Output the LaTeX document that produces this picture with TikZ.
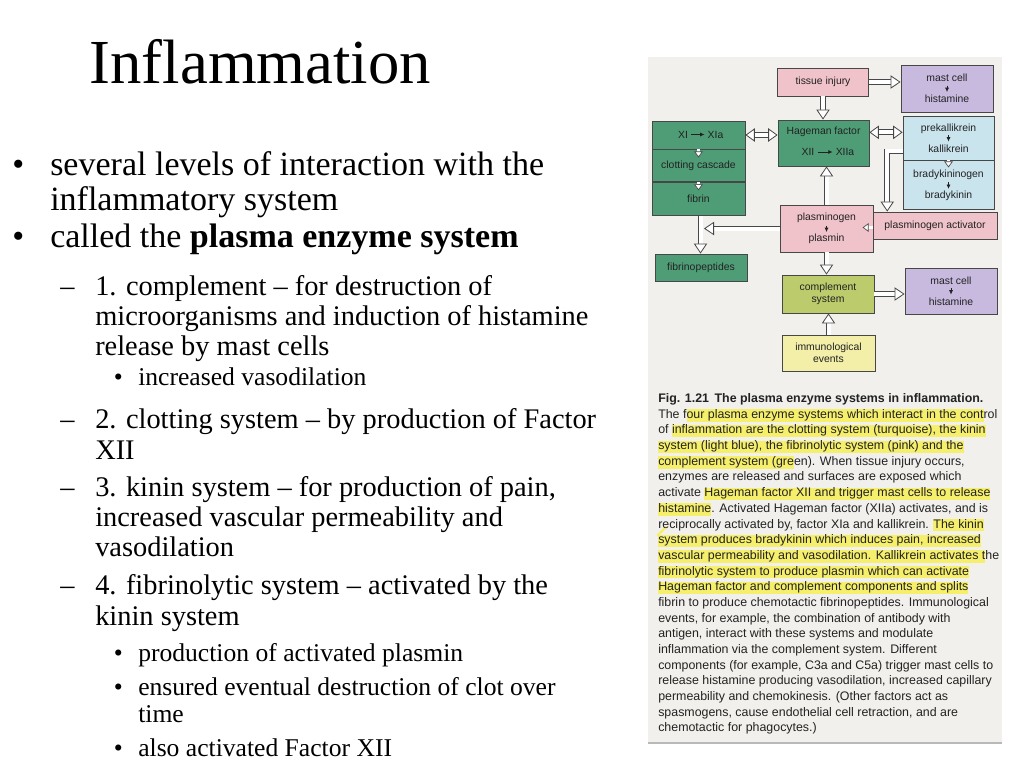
\documentclass[tikz,border=0pt]{standalone}
\usepackage{fontspec}
\setmainfont{Liberation Serif}
\newfontfamily\figfont{Liberation Sans}
\usepackage{xcolor}
\usepackage{tikz}
\usetikzlibrary{calc}
\usetikzlibrary{arrows.meta}
\usetikzlibrary{positioning}
\definecolor{panelbg}{HTML}{F1F0EC}
\definecolor{boxedge}{HTML}{474747}
\definecolor{injurypink}{HTML}{EFC3C9}
\definecolor{clotgreen}{HTML}{4F9D76}
\definecolor{kininblue}{HTML}{CAE4EE}
\definecolor{mastpurple}{HTML}{C8BADF}
\definecolor{complime}{HTML}{BCCB6B}
\definecolor{immunocream}{HTML}{F3EEA8}
\definecolor{hiyellow}{HTML}{F6EF6C}
\definecolor{figtext}{HTML}{222222}
\newcommand{\hlt}[1]{{\setlength{\fboxsep}{0pt}\colorbox{hiyellow}{\rule[-2.6pt]{0pt}{7.8pt}#1}}}
\tikzset{
	slide/.style={anchor=base west,inner sep=0pt,font=\fontsize{25.5}{30}\selectfont},
	subslide/.style={slide,font=\fontsize{21.3}{25}\selectfont},
	subsubslide/.style={slide,font=\fontsize{19.2}{23}\selectfont},
	box/.style={draw=boxedge,line width=0.65pt,inner sep=0pt,align=center,text=figtext,font=\figfont\fontsize{7.8}{15.5}\selectfont},
	lbl/.style={inner sep=2.2pt,text=figtext,font=\figfont\fontsize{7.8}{9}\selectfont},
	capline/.style={anchor=base west,inner sep=0pt,text=figtext,font=\figfont\fontsize{9.3}{11}\selectfont},
	hollow/.style={draw=white,line width=3pt,
		preaction={draw=boxedge,line width=4.4pt,-,shorten >=4pt},
		-{Triangle[length=7.5pt,width=10pt,line width=0.6pt,color=boxedge,fill=white]}},
	hollowboth/.style={draw=white,line width=3pt,
		preaction={draw=boxedge,line width=4.4pt,-,shorten >=4pt,shorten <=4pt},
		{Triangle[length=7pt,width=10pt,line width=0.6pt,color=boxedge,fill=white]}-{Triangle[length=7pt,width=10pt,line width=0.6pt,color=boxedge,fill=white]}},
	tinyhollow/.style={draw=white,line width=1.6pt,
		preaction={draw=boxedge,line width=2.6pt,-,shorten >=2pt},
		-{Triangle[length=4.5pt,width=6.5pt,line width=0.5pt,color=boxedge,fill=white]}},
	minitip/.style={draw=figtext,line width=0.5pt,-{Latex[length=3.2pt,width=3pt]}}
}

\begin{document}
\begin{tikzpicture}[x=0.75pt,y=-0.75pt]
	\useasboundingbox (0,0) rectangle (1024,768);
	\fill[white] (0,0) rectangle (1024,768);
	% slide text
	\node[anchor=base west,inner sep=0pt,font=\fontsize{47}{56}\selectfont] (title) at (89.5,83.3) {Inflammation};
	\node[slide] (dotA) at (12,175) {•};
	\node[slide] (lineA1) at (50,175) {several levels of interaction with the};
	\node[slide] (lineA2) at (50,210.7) {inflammatory system};
	\node[slide] (dotB) at (12,247.7) {•};
	\node[slide] (lineB1) at (50,247.7) {called the \textbf{plasma enzyme system}};
	\node[subslide] (dashC) at (60,295.3) {–};
	\node[subslide] (lineC1) at (95,295.3) {1. complement – for destruction of};
	\node[subslide] (lineC2) at (95,325) {microorganisms and induction of histamine};
	\node[subslide] (lineC3) at (95,355) {release by mast cells};
	\node[subsubslide] (dotC) at (113.5,385) {•};
	\node[subsubslide] (lineC4) at (138,385) {increased vasodilation};
	\node[subslide] (dashD) at (60,428.3) {–};
	\node[subslide] (lineD1) at (95,428.3) {2. clotting system – by production of Factor};
	\node[subslide] (lineD2) at (95,459) {XII};
	\node[subslide] (dashE) at (60,496.7) {–};
	\node[subslide] (lineE1) at (95,496.7) {3. kinin system – for production of pain,};
	\node[subslide] (lineE2) at (95,526.7) {increased vascular permeability and};
	\node[subslide] (lineE3) at (95,556.7) {vasodilation};
	\node[subslide] (dashF) at (60,594.3) {–};
	\node[subslide] (lineF1) at (95,594.3) {4. fibrinolytic system – activated by the};
	\node[subslide] (lineF2) at (95,625) {kinin system};
	\node[subsubslide] (dotF1) at (113.5,661.7) {•};
	\node[subsubslide] (lineF3) at (138,661.7) {production of activated plasmin};
	\node[subsubslide] (dotF2) at (113.5,695) {•};
	\node[subsubslide] (lineF4) at (138,695) {ensured eventual destruction of clot over};
	\node[subsubslide] (lineF5) at (138,722.7) {time};
	\node[subsubslide] (dotF3) at (113.5,756.7) {•};
	\node[subsubslide] (lineF6) at (138,756.7) {also activated Factor XII};
	% scanned figure
	\fill[panelbg] (648,57) rectangle (1002,743);
	\draw[gray!55,line width=0.8pt] (648,743) -- (1002,743);
	\node[box,fill=injurypink,minimum width=68.25pt,minimum height=21pt] (injury) at (823,82) {tissue injury};
	\node[box,fill=mastpurple,minimum width=69pt,minimum height=35.25pt] (mastA) at (947,88.5) {mast cell\\histamine};
	\node[box,fill=clotgreen,minimum width=68.25pt,minimum height=34.5pt] (hag) at (823.5,143) {};
	\node[lbl] (hagtxt) at (823.5,131.5) {Hageman factor};
	\node[lbl] (xii) at (808,152) {XII};
	\node[lbl] (xiia) at (845,152) {XIIa};
	\node[box,fill=clotgreen,minimum width=69.75pt,minimum height=21pt] (clotA) at (698.5,135) {};
	\node[box,fill=clotgreen,minimum width=69.75pt,minimum height=24pt,below=0pt of clotA] (clotB) {clotting cascade};
	\node[box,fill=clotgreen,minimum width=69.75pt,minimum height=24.75pt,below=0pt of clotB] (clotC) {fibrin};
	\node[lbl] (xi) at (683,134.5) {XI};
	\node[lbl] (xia) at (715.5,134.5) {XIa};
	\node[box,fill=kininblue,minimum width=68.25pt,minimum height=33pt] (kinA) at (948.5,138) {prekallikrein\\kallikrein};
	\node[box,fill=kininblue,minimum width=68.25pt,minimum height=36.75pt,below=0pt of kinA] (kinB) {bradykininogen\\bradykinin};
	\node[box,fill=injurypink,minimum width=69.75pt,minimum height=35.25pt] (plas) at (826.5,228.5) {plasminogen\\plasmin};
	\node[box,fill=injurypink,minimum width=93pt,minimum height=20.25pt] (act) at (935,225.5) {plasminogen activator};
	\node[box,fill=clotgreen,minimum width=69pt,minimum height=20.25pt] (fibpep) at (701,267.5) {fibrinopeptides};
	\node[box,fill=complime,minimum width=69pt,minimum height=28.5pt,font=\figfont\fontsize{7.8}{8.6}\selectfont] (compl) at (828,294) {complement\\system};
	\node[box,fill=mastpurple,minimum width=69pt,minimum height=34.5pt] (mastB) at (951,291) {mast cell\\histamine};
	\node[box,fill=immunocream,minimum width=69.75pt,minimum height=27pt,font=\figfont\fontsize{7.8}{8.6}\selectfont] (immuno) at (828.5,353) {immunological\\events};
	% hollow connectors
	\draw[hollow] (injury.east) -- (injury.east -| mastA.west);
	\draw[hollow] (injury.south) -- (injury.south |- hag.north);
	\draw[hollowboth] (clotA.east) -- (clotA.east -| hag.west);
	\draw[hollowboth] ([yshift=8pt]hag.east) -- ([yshift=8pt]hag.east -| kinA.west);
	\draw[hollow] (plas.north) -- (plas.north |- hag.south);
	\draw[hollow] ([yshift=6.75pt]kinA.south west) -| ([xshift=11pt]act.north west);
	\draw[tinyhollow] ([yshift=-1.5pt]act.west) -- ++(-10,0);
	\draw[hollow] ([xshift=1.5pt]clotC.south) -- ([xshift=1.5pt]clotC.south |- fibpep.north);
	\draw[hollow] (plas.west) -- ($(plas.west -| clotC.south)+(5.5,0)$);
	\draw[hollow] (plas.south) -- (plas.south |- compl.north);
	\draw[hollow] (compl.east) -- (compl.east -| mastB.west);
	\draw[hollow] (immuno.north) -- (immuno.north |- compl.south);
	\draw[tinyhollow] (clotB.north) -- ++(0,8);
	\draw[tinyhollow] (clotC.north) -- ++(0,8);
	\draw[tinyhollow] (kinB.north) -- ++(0,7);
	% small solid arrows
	\draw[minitip] (xi) -- (xia);
	\draw[minitip] (xii) -- (xiia);
	\draw[minitip] ($(mastA)+(0,-3)$) -- ($(mastA)+(0,3.5)$);
	\draw[minitip] ($(kinA)+(0,-3)$) -- ($(kinA)+(0,3.5)$);
	\draw[minitip] ($(kinB)+(0,-3)$) -- ($(kinB)+(0,3.5)$);
	\draw[minitip] ($(plas)+(0,-3)$) -- ($(plas)+(0,3.5)$);
	\draw[minitip] ($(mastB)+(0,-3)$) -- ($(mastB)+(0,3.5)$);
	% caption
	\draw[hiyellow,line width=1.8pt,line cap=round] (666,527) -- (658,535);
	\node[capline] (cap1) at (658,402.6) {\textbf{Fig. 1.21\hspace{0.45em}The plasma enzyme systems in inflammation.}};
	\node[capline] (cap2) at (658,418.3) {The f\hlt{our plasma enzyme systems which interact in the cont}rol};
	\node[capline] (cap3) at (658,433.9) {of \hlt{inflammation are the clotting system (turquoise), the kinin}};
	\node[capline] (cap4) at (658,449.6) {\hlt{system (light blue), the fibrinolytic system (pink) and the}};
	\node[capline] (cap5) at (658,465.3) {\hlt{complement system (gre}en). When tissue injury occurs,};
	\node[capline] (cap6) at (658,480.9) {enzymes are released and surfaces are exposed which};
	\node[capline] (cap7) at (658,496.6) {activate \hlt{Hageman factor XII and trigger mast cells to release}};
	\node[capline] (cap8) at (658,512.3) {\hlt{histamine}. Activated Hageman factor (XIIa) activates, and is};
	\node[capline] (cap9) at (658,528) {reciprocally activated by, factor XIa and kallikrein. \hlt{The kinin}};
	\node[capline] (cap10) at (658,543.6) {\hlt{system produces bradykinin which induces pain, increased}};
	\node[capline] (cap11) at (658,559.3) {\hlt{vascular permeability and vasodilation. Kallikrein activates t}he};
	\node[capline] (cap12) at (658,575) {\hlt{fibrinolytic system to produce plasmin which can activate}};
	\node[capline] (cap13) at (658,590.6) {\hlt{Hageman factor and complement components and splits}};
	\node[capline] (cap14) at (658,606.3) {fibrin to produce chemotactic fibrinopeptides. Immunological};
	\node[capline] (cap15) at (658,622) {events, for example, the combination of antibody with};
	\node[capline] (cap16) at (658,637.6) {antigen, interact with these systems and modulate};
	\node[capline] (cap17) at (658,653.3) {inflammation via the complement system. Different};
	\node[capline] (cap18) at (658,669) {components (for example, C3a and C5a) trigger mast cells to};
	\node[capline] (cap19) at (658,684.7) {release histamine producing vasodilation, increased capillary};
	\node[capline] (cap20) at (658,700.3) {permeability and chemokinesis. (Other factors act as};
	\node[capline] (cap21) at (658,716) {spasmogens, cause endothelial cell retraction, and are};
	\node[capline] (cap22) at (658,731.7) {chemotactic for phagocytes.)};
\end{tikzpicture}
\end{document}
